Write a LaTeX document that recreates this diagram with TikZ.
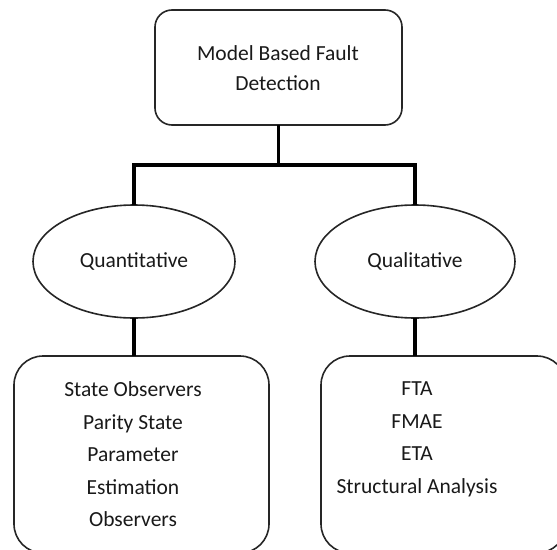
\documentclass[tikz,border=0pt]{standalone}
\usepackage{fontspec}
\setmainfont{Carlito}
\usetikzlibrary{shapes.geometric}
\begin{document}
\begin{tikzpicture}[x=1pt,y=-1pt,
  every node/.style={inner sep=0pt, outer sep=0pt},
  lbl/.style={font=\fontsize{21.5}{32.5}\selectfont, align=center, text=black!90},
  topbox/.style={draw=black!85, line width=1.6pt, rounded corners=17pt, rectangle},
  leafbox/.style={draw=black!85, line width=1.6pt, rounded corners=29pt, rectangle},
  branch/.style={draw=black!85, line width=1.6pt, ellipse},
  link/.style={line width=3.2pt, black}]
  \useasboundingbox (0,0) rectangle (557,549);

  % root box
  \node[topbox, minimum width=247pt, minimum height=115pt] (root) at (278.5,67.5) {};
  \node[lbl, font=\fontsize{21.5}{30}\selectfont] (rootlbl) at (278,68) {Model Based Fault\\Detection};

  % the two branches
  \node[branch, minimum width=202pt, minimum height=113pt, lbl] (quant) at (134,261.5) {Quantitative};
  \node[branch, minimum width=200pt, minimum height=113pt, lbl] (qual) at (415,261.5) {Qualitative};

  % leaf boxes
  \node[leafbox, minimum width=255pt, minimum height=197pt] (methods) at (141.5,454.5) {};
  \node[leafbox, minimum width=245pt, minimum height=197pt] (tools) at (443.5,454.5) {};
  \node[lbl, anchor=north] (methodslbl) at (133,382) {State Observers\\Parity State\\Parameter\\Estimation\\Observers};
  \node[lbl, anchor=north] (toolslbl) at (417,382) {FTA\\FMAE\\ETA\\Structural Analysis};

  % tree connectors
  \coordinate (split) at (278.5,165);
  \draw[link] (root.south) -- (split);
  \draw[link] (quant.north) |- (split) -| (qual.north);
  \draw[link] (quant.south) -- (quant.south |- methods.north);
  \draw[link] (qual.south) -- (qual.south |- tools.north);
\end{tikzpicture}
\end{document}
